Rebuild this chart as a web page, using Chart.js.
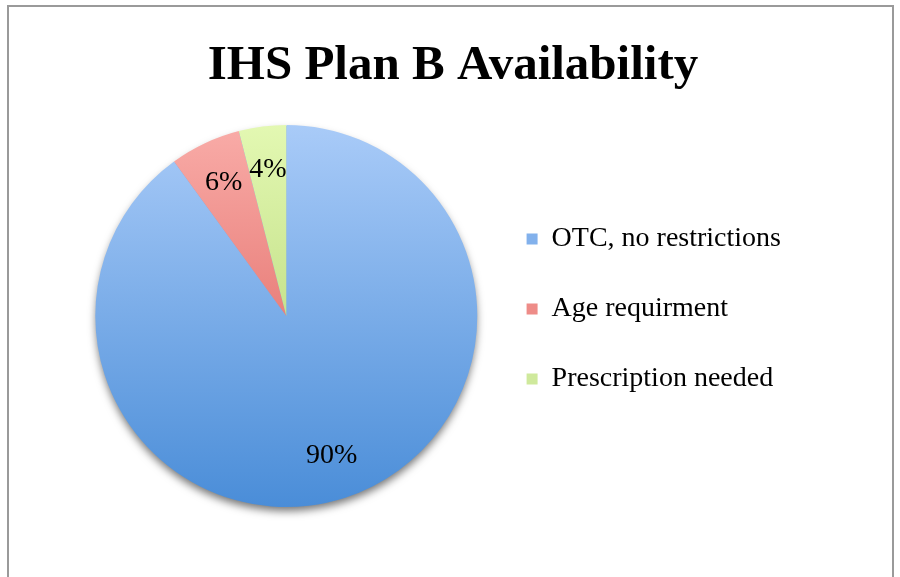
<!DOCTYPE html>
<html>
<head>
<meta charset="utf-8">
<script src="https://cdn.jsdelivr.net/npm/chart.js@4/dist/chart.umd.min.js"></script>
<style>
  html, body { margin: 0; padding: 0; background: #fff; }
  #wrap { position: relative; width: 900px; height: 577px; overflow: hidden; }
  #frame { position: absolute; left: 7px; top: 5px; width: 887px; height: 600px; border: 2px solid #9a9a9a; box-sizing: border-box; pointer-events: none; }
  canvas { position: absolute; left: 0; top: 0; }
</style>
</head>
<body>
<div id="wrap">
  <canvas id="c" width="900" height="577"></canvas>
  <div id="frame"></div>
</div>
<script>
const titleText = 'IHS Plan B Availability';
const categories = ['OTC, no restrictions', 'Age requirment', 'Prescription needed'];
const values = [90, 6, 4];
const topColors = ['#a9cbf8', '#f9aca8', '#e3f8b2'];
const bottomColors = ['#4a8dd8', '#d9544f', '#a9cd68'];
const legendColors = ['#82b1ec', '#ee8c88', '#cfe99c'];

const serif = '"Liberation Serif", "DejaVu Serif", serif';

function gradFill(context) {
  const chart = context.chart;
  const i = context.dataIndex;
  const area = chart.chartArea;
  if (!area || i === undefined) return topColors[i || 0];
  const g = chart.ctx.createLinearGradient(0, area.top, 0, area.bottom);
  g.addColorStop(0, topColors[i]);
  g.addColorStop(1, bottomColors[i]);
  return g;
}

const titlePlugin = {
  id: 'centeredTitle',
  afterDraw(chart) {
    const ctx = chart.ctx;
    ctx.save();
    ctx.font = 'bold 49px ' + serif;
    ctx.fillStyle = '#000';
    ctx.textAlign = 'center';
    ctx.textBaseline = 'alphabetic';
    ctx.fillText(titleText, chart.width / 2 + 3, 79);
    ctx.restore();
  }
};

const shadowPlugin = {
  id: 'pieShadow',
  beforeDatasetsDraw(chart) {
    const meta = chart.getDatasetMeta(0);
    if (!meta.data.length) return;
    const a = meta.data[0];
    const ctx = chart.ctx;
    ctx.save();
    ctx.shadowColor = 'rgba(0,0,0,0.55)';
    ctx.shadowBlur = 9;
    ctx.shadowOffsetY = 5;
    ctx.beginPath();
    ctx.arc(a.x, a.y, a.outerRadius - 1, 0, Math.PI * 2);
    ctx.fillStyle = '#7aa6dc';
    ctx.fill();
    ctx.restore();
  }
};

const labelPlugin = {
  id: 'pctLabels',
  afterDatasetsDraw(chart) {
    const meta = chart.getDatasetMeta(0);
    const total = values.reduce((s, v) => s + v, 0);
    const ctx = chart.ctx;
    ctx.save();
    ctx.font = '28px ' + serif;
    ctx.fillStyle = '#000';
    ctx.textAlign = 'center';
    ctx.textBaseline = 'middle';
    meta.data.forEach((arc, i) => {
      const p = arc.getProps(['x', 'y', 'startAngle', 'endAngle', 'outerRadius'], true);
      const mid = (p.startAngle + p.endAngle) / 2;
      const r = p.outerRadius * 0.77;
      ctx.fillText(Math.round(values[i] / total * 100) + '%', p.x + Math.cos(mid) * r, p.y + Math.sin(mid) * r);
    });
    ctx.restore();
  }
};

new Chart(document.getElementById('c'), {
  type: 'pie',
  data: {
    labels: categories,
    datasets: [{
      data: values,
      backgroundColor: gradFill,
      borderWidth: 0
    }]
  },
  options: {
    responsive: false,
    animation: false,
    layout: { padding: { left: 88, right: 109, top: 125, bottom: 70 } },
    plugins: {
      tooltip: { enabled: false },
      title: { display: false },
      legend: {
        position: 'right',
        align: 'center',
        title: {
          display: true,
          text: '',
          font: { size: 10, lineHeight: 1 },
          padding: { top: 0, bottom: -24 }
        },
        labels: {
          color: '#000',
          font: { family: serif, size: 28 },
          boxWidth: 11,
          boxHeight: 11,
          padding: 42,
          generateLabels(chart) {
            return categories.map((c, i) => ({
              text: c,
              fillStyle: legendColors[i],
              strokeStyle: 'rgba(0,0,0,0)',
              fontColor: '#000',
              lineWidth: 0,
              index: i,
              hidden: false
            }));
          }
        }
      }
    }
  },
  plugins: [shadowPlugin, labelPlugin, titlePlugin]
});
</script>
</body>
</html>
